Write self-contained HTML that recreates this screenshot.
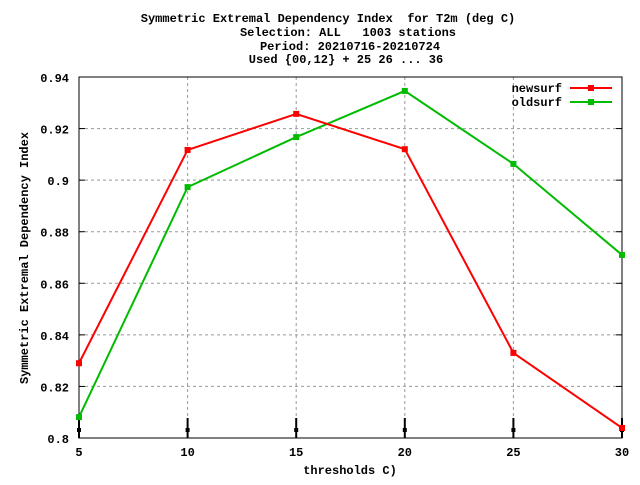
<!DOCTYPE html>
<html><head><meta charset="utf-8"><style>
body{margin:0;background:#fff}
svg text{font-family:"Liberation Mono","DejaVu Sans Mono",monospace;font-size:12px;font-weight:bold;fill:#000;white-space:pre}
</style></head><body>
<svg id="chart" width="640" height="480">
<g>
<text x="328" y="22" text-anchor="middle" xml:space="preserve">Symmetric Extremal Dependency Index  for T2m (deg C)</text>
<text x="348" y="36" text-anchor="middle" xml:space="preserve">Selection: ALL   1003 stations</text>
<text x="350" y="50" text-anchor="middle">Period: 20210716-20210724</text>
<text x="346" y="63" text-anchor="middle">Used {00,12} + 25 26 ... 36</text>
</g>
<g id="grid"></g>
<g id="axes"></g>
<text transform="translate(28,258) rotate(-90)" text-anchor="middle">Symmetric Extremal Dependency Index</text>
<text x="350" y="474" text-anchor="middle">thresholds C)</text>
<g id="series"></g>
<g>
<g><text x="562" y="92" text-anchor="end">newsurf</text><line x1="570" y1="88" x2="612" y2="88" stroke="#f00" stroke-width="2"/><rect x="588" y="85" width="6" height="6" fill="#f00"/></g>
<g><text x="562" y="106" text-anchor="end">oldsurf</text><line x1="570" y1="102" x2="612" y2="102" stroke="#0b0" stroke-width="2"/><rect x="588" y="99" width="6" height="6" fill="#0b0"/></g>
</g>
</svg>
<script>
const categories=[5,10,15,20,25,30];
const newsurf=[0.829,0.9117,0.9257,0.912,0.833,0.8039];
const oldsurf=[0.8081,0.8973,0.9167,0.9346,0.9063,0.871];
const yTicks=[0.8,0.82,0.84,0.86,0.88,0.9,0.92,0.94];
const yTickLabels=["0.8","0.82","0.84","0.86","0.88","0.9","0.92","0.94"];
const L=79,R=622,T=77,B=438;
const xs=v=>L+(v-5)/25*(R-L);
const ys=v=>B-(v-0.8)/0.14*(B-T);
const NS="http://www.w3.org/2000/svg";
function mk(t,a,p){const e=document.createElementNS(NS,t);for(const k in a)e.setAttribute(k,a[k]);p.appendChild(e);return e;}
const grid=document.getElementById('grid'),axes=document.getElementById('axes'),ser=document.getElementById('series');
yTicks.forEach((v,i)=>{
 if(i>0&&i<yTicks.length-1){const g=mk('line',{x1:L,x2:R,y1:ys(v),y2:ys(v),stroke:'#999','stroke-dasharray':'3,3'},grid);
 
 }
 const t=mk('text',{x:L-10,y:ys(v)+5,'text-anchor':'end'},axes);t.textContent=yTickLabels[i];
 
 
 mk('line',{x1:L,x2:L+6,y1:ys(v),y2:ys(v),stroke:'#000'},axes);
 mk('line',{x1:R,x2:R-6,y1:ys(v),y2:ys(v),stroke:'#000'},axes);
});
categories.forEach((c,i)=>{
 if(i>0&&i<categories.length-1){const g=mk('line',{x1:xs(c),x2:xs(c),y1:T,y2:B,stroke:'#999','stroke-dasharray':'3,3'},grid);
 
 }
 const t=mk('text',{x:xs(c),y:B+18,'text-anchor':'middle'},axes);t.textContent=String(c);
 
 
 mk('line',{x1:xs(c),x2:xs(c),y1:B-20,y2:B,stroke:'#000','stroke-width':2},axes);
 mk('rect',{x:xs(c)-2,y:B-10,width:4,height:4,fill:'#000'},axes);
});
const fr=mk('rect',{x:L,y:T,width:R-L,height:B-T,fill:'none',stroke:'#000'},axes);


function draw(vals,col,name){
 const pl=mk('polyline',{points:vals.map((v,i)=>xs(categories[i])+','+ys(v)).join(' '),fill:'none',stroke:col,'stroke-width':2},ser);
 
 
 vals.forEach((v,i)=>{const p=mk('rect',{x:xs(categories[i])-3,y:ys(v)-3,width:6,height:6,fill:col},ser);
 
 });
}
draw(oldsurf,'#0b0','oldsurf');
draw(newsurf,'#f00','newsurf');
</script>
</body></html>
